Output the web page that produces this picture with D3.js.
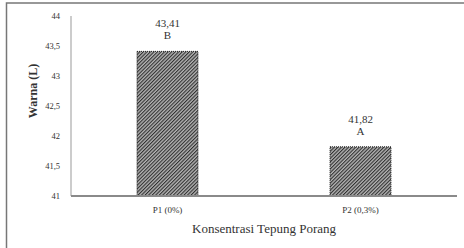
<!DOCTYPE html>
<html>
<head>
<meta charset="utf-8">
<script src="https://cdn.jsdelivr.net/npm/d3@7"></script>
<style>
  body { margin: 0; background: #fff; }
  svg { display: block; }
  text { font-family: "Liberation Serif", "Times New Roman", serif; fill: #333; }
</style>
</head>
<body>
<svg id="chart" width="464" height="248"></svg>
<script>
// chart data
let categories = ["P1 (0%)", "P2 (0,3%)"];
let values = [43.41, 41.82];
let letters = ["B", "A"];
let yTicks = [41, 41.5, 42, 42.5, 43, 43.5, 44];

let svg = d3.select("#chart");

// outer frame (cut off at right and bottom like the picture)
svg.append("rect")
    .attr("x", 6.5).attr("y", 3)
    .attr("width", 470).attr("height", 260)
    .attr("fill", "none")
    .attr("stroke", "#777")
    .attr("stroke-width", 1.5);

// hatch pattern for bars
let defs = svg.append("defs");
let pat = defs.append("pattern")
    .attr("id", "hatch")
    .attr("patternUnits", "userSpaceOnUse")
    .attr("width", 2.5).attr("height", 2.5)
    .attr("patternTransform", "rotate(45)");
pat.append("rect").attr("width", 2.5).attr("height", 2.5).attr("fill", "#b4b4b4");
pat.append("rect").attr("width", 1.1).attr("height", 2.5).attr("fill", "#303030");

let plotLeft = 71, plotRight = 457, plotTop = 16, plotBottom = 196;

let x = d3.scaleBand().domain(categories).range([plotLeft, plotRight]).paddingInner(0.684).paddingOuter(0.342);
let y = d3.scaleLinear().domain([41, 44]).range([plotBottom, plotTop]);

// y axis
svg.append("line")
    .attr("x1", plotLeft).attr("x2", plotLeft)
    .attr("y1", y(44)).attr("y2", y(41))
    .attr("stroke", "#999").attr("stroke-width", 1);

svg.selectAll(".ytick")
    .data(yTicks)
    .enter().append("text")
    .attr("class", "ytick")
    .attr("x", 60)
    .attr("y", d => y(d))
    .attr("dy", "0.35em")
    .attr("text-anchor", "end")
    .style("font-size", "8.5px")
    .text(d => d3.format("")(d).replace(".", ","));

// bars
svg.selectAll(".bar")
    .data(values)
    .enter().append("rect")
    .attr("class", "bar")
    .attr("x", (d, i) => x(categories[i]))
    .attr("y", d => y(d))
    .attr("width", x.bandwidth())
    .attr("height", d => y(41) - y(d))
    .attr("fill", "url(#hatch)")
    .attr("stroke", "#222")
    .attr("stroke-width", 1)
    .attr("stroke-dasharray", "1,1");

// x axis line
svg.append("line")
    .attr("x1", plotLeft).attr("x2", plotRight)
    .attr("y1", y(41)).attr("y2", y(41))
    .attr("stroke", "#8a8a8a").attr("stroke-width", 2);

// value + letter labels
svg.selectAll(".val")
    .data(values)
    .enter().append("text")
    .attr("class", "val")
    .attr("x", (d, i) => x(categories[i]) + x.bandwidth() / 2)
    .attr("y", d => y(d) - 24)
    .attr("text-anchor", "middle")
    .style("font-size", "11px")
    .text(d => d3.format(".2f")(d).replace(".", ","));

svg.selectAll(".letter")
    .data(letters)
    .enter().append("text")
    .attr("class", "letter")
    .attr("x", (d, i) => x(categories[i]) + x.bandwidth() / 2)
    .attr("y", (d, i) => y(values[i]) - 12)
    .attr("text-anchor", "middle")
    .style("font-size", "11px")
    .text(d => d);

// category labels
svg.selectAll(".cat")
    .data(categories)
    .enter().append("text")
    .attr("class", "cat")
    .attr("x", d => x(d) + x.bandwidth() / 2)
    .attr("y", 213)
    .attr("text-anchor", "middle")
    .style("font-size", "9px")
    .text(d => d);

// axis titles
svg.append("text")
    .attr("x", (plotLeft + plotRight) / 2)
    .attr("y", 233)
    .attr("text-anchor", "middle")
    .style("font-size", "13px")
    .text("Konsentrasi Tepung Porang");

svg.append("text")
    .attr("transform", "translate(37,91) rotate(-90)")
    .attr("text-anchor", "middle")
    .style("font-size", "12px")
    .style("font-weight", "bold")
    .text("Warna (L)");
</script>
</body>
</html>
